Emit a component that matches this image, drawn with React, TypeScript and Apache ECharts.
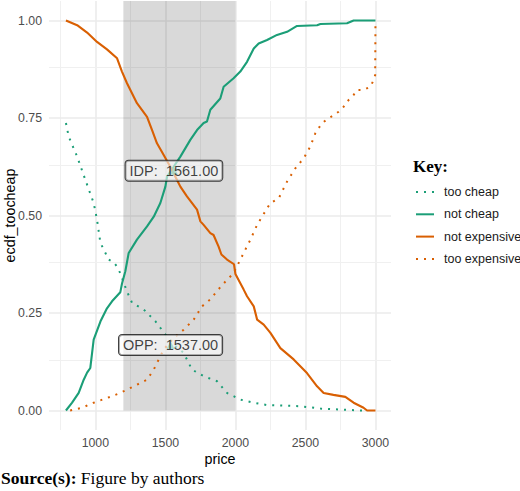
import React, { useEffect, useRef } from "react";
import * as echarts from "echarts";

// ---- axis breaks / limits ----
const xBreaks = [1000, 1500, 2000, 2500, 3000];
const xMinorBreaks = [750, 1250, 1750, 2250, 2750];
const yBreaks = [0, 0.25, 0.5, 0.75, 1];
const yMinorBreaks = [0.125, 0.375, 0.625, 0.875];
const xLimits = [669, 3111];
const yLimits = [-0.05, 1.05];

// ---- shaded range of acceptable prices ----
const shadeX = [1200, 2000];
const shadeY = [0, 1.05];

// ---- curves (price, share) ----
const tooCheap = [
  [790, 0.737], [810, 0.702], [870, 0.651], [929, 0.591], [988, 0.532], [1012, 0.489],
  [1036, 0.43], [1095, 0.387], [1131, 0.38], [1155, 0.369], [1178, 0.352], [1226, 0.305],
  [1262, 0.276], [1345, 0.259], [1428, 0.229], [1500, 0.195], [1559, 0.169], [1630, 0.148],
  [1690, 0.105], [1773, 0.088], [1869, 0.075], [1940, 0.045], [2035, 0.028], [2131, 0.02],
  [2226, 0.014], [2464, 0.011], [2607, 0.005], [2892, 0.0], [2930, 0.0],
];
const notCheap = [
  [790, 0], [834, 0.02], [881, 0.045], [917, 0.079], [941, 0.097], [964, 0.109], [988, 0.182],
  [1036, 0.228], [1083, 0.262], [1119, 0.28], [1178, 0.303], [1190, 0.325], [1214, 0.357],
  [1238, 0.404], [1297, 0.438], [1369, 0.472], [1417, 0.497], [1464, 0.532], [1500, 0.574],
  [1512, 0.6], [1559, 0.625], [1607, 0.651], [1678, 0.694], [1726, 0.719], [1773, 0.737],
  [1797, 0.741], [1821, 0.771], [1892, 0.8], [1916, 0.83], [1987, 0.852], [2035, 0.869],
  [2083, 0.894], [2131, 0.928], [2166, 0.941], [2226, 0.95], [2297, 0.963], [2369, 0.971],
  [2440, 0.986], [2583, 0.988], [2607, 0.991], [2797, 0.993], [2844, 1.0], [3000, 1.0],
];
const notExpensive = [
  [790, 1.0], [870, 0.988], [941, 0.969], [1012, 0.945], [1083, 0.926], [1155, 0.903],
  [1190, 0.869], [1226, 0.839], [1297, 0.788], [1369, 0.753], [1405, 0.719], [1440, 0.685],
  [1488, 0.655], [1535, 0.625], [1583, 0.591], [1607, 0.574], [1654, 0.549], [1726, 0.515],
  [1750, 0.485], [1773, 0.476], [1821, 0.455], [1844, 0.45], [1880, 0.42], [1900, 0.4],
  [1940, 0.387], [1990, 0.375], [2000, 0.35], [2059, 0.31], [2083, 0.293], [2131, 0.267],
  [2155, 0.233], [2202, 0.22], [2250, 0.199], [2321, 0.16], [2416, 0.131], [2511, 0.096],
  [2583, 0.062], [2630, 0.045], [2700, 0.04], [2785, 0.035], [2844, 0.02], [2915, 0.007],
  [2940, 0.0], [3000, 0.0],
];
const tooExpensive = [
  [820, 0], [905, 0.007], [988, 0.02], [1083, 0.032], [1178, 0.045], [1274, 0.062],
  [1369, 0.079], [1417, 0.105], [1440, 0.122], [1488, 0.156], [1559, 0.186], [1630, 0.207],
  [1702, 0.233], [1761, 0.267], [1821, 0.285], [1892, 0.316], [1940, 0.335], [1987, 0.352],
  [2059, 0.404], [2107, 0.438], [2155, 0.476], [2190, 0.497], [2250, 0.532], [2309, 0.544],
  [2369, 0.587], [2428, 0.621], [2488, 0.647], [2535, 0.677], [2571, 0.711], [2618, 0.737],
  [2666, 0.749], [2737, 0.766], [2773, 0.779], [2808, 0.796], [2844, 0.809], [2868, 0.822],
  [2915, 0.822], [2963, 0.83], [2987, 0.847], [2998, 0.86], [3000, 0.99],
];

// ---- intersection labels ----
const idpPoint = [1561, 0.615];
const oppPoint = [1537, 0.168];
const idpText = "IDP: \u00a01561.00";
const oppText = "OPP: \u00a01537.00";

const seriesNames = ["too cheap", "not cheap", "not expensive", "too expensive"];

const GREEN = "#1b9e77";
const ORANGE = "#d95f02";
const SANS = "'Liberation Sans', Arial, sans-serif";
const SERIF = "'Liberation Serif', 'Times New Roman', serif";

export default function App() {
  const ref = useRef<HTMLDivElement>(null);
  useEffect(() => {
    if (!ref.current) return;
    const chart = echarts.init(ref.current, null, { renderer: "svg" });

    const gridLines = [
      ...xBreaks.map((v) => ({ xAxis: v, lineStyle: { color: "#ebebeb", width: 1.6, type: "solid" } })),
      ...xMinorBreaks.map((v) => ({ xAxis: v, lineStyle: { color: "#f0f0f0", width: 1.1, type: "solid" } })),
      ...yBreaks.map((v) => ({ yAxis: v, lineStyle: { color: "#ebebeb", width: 1.6, type: "solid" } })),
      ...yMinorBreaks.map((v) => ({ yAxis: v, lineStyle: { color: "#f0f0f0", width: 1.1, type: "solid" } })),
    ];

    const labelStyle = {
      show: true,
      position: "inside",
      color: "#111",
      fontFamily: SANS,
      fontSize: 14.5,
      backgroundColor: "rgba(255,255,255,0.72)",
      borderColor: "#111",
      borderWidth: 1,
      borderRadius: 3,
      padding: [3, 4, 2, 4],
    };

    const dotted = [2, 6];

    chart.setOption({
      animation: false,
      backgroundColor: "#ffffff",
      grid: { left: 49, right: 129, top: 1, bottom: 61, containLabel: false, outerBoundsMode: "none" },
      xAxis: {
        type: "value",
        min: xLimits[0],
        max: xLimits[1],
        name: "price",
        nameLocation: "middle",
        nameGap: 22,
        nameMoveOverlap: false,
        nameTextStyle: { color: "#000", fontFamily: SANS, fontSize: 14.3, verticalAlign: "top" },
        axisLine: { show: false },
        axisTick: { show: false },
        splitLine: { show: false },
        axisLabel: {
          customValues: xBreaks,
          formatter: (v: number) => String(v),
          color: "#4d4d4d",
          fontFamily: SANS,
          fontSize: 12.3,
          margin: 7,
        },
      },
      yAxis: {
        type: "value",
        min: yLimits[0],
        max: yLimits[1],
        name: "ecdf_toocheap",
        nameLocation: "middle",
        nameGap: 32,
        nameMoveOverlap: false,
        nameTextStyle: { color: "#000", fontFamily: SANS, fontSize: 14.3 },
        axisLine: { show: false },
        axisTick: { show: false },
        splitLine: { show: false },
        axisLabel: {
          customValues: yBreaks,
          formatter: (v: number) => v.toFixed(2),
          color: "#4d4d4d",
          fontFamily: SANS,
          fontSize: 12.3,
          margin: 7,
        },
      },
      legend: {
        data: seriesNames,
        orient: "vertical",
        left: 410,
        top: 180.5,
        itemWidth: 18,
        itemHeight: 14,
        itemGap: 9.3,
        padding: 5,
        itemStyle: { opacity: 0 },
        textStyle: { color: "#1a1a1a", fontFamily: SANS, fontSize: 12.5, padding: [0, 0, 0, 5] },
        selectedMode: false,
      },
      graphic: [
        {
          type: "text",
          left: 413,
          top: 158,
          style: { text: "Key:", font: `bold 17px ${SERIF}`, fill: "#000" },
        },
        {
          type: "text",
          left: 1,
          top: 469,
          style: {
            text: "{b|Source(s):} Figure by authors",
            font: `17.5px ${SERIF}`,
            fill: "#000",
            rich: { b: { fontWeight: "bold", fontFamily: SERIF, fontSize: 17.5, fill: "#000" } },
          },
        },
      ],
      series: [
        {
          name: "gridlines",
          type: "line",
          data: [],
          z: 0,
          silent: true,
          markLine: {
            silent: true,
            z: 0,
            symbol: ["none", "none"],
            label: { show: false },
            animation: false,
            data: gridLines,
          },
        },
        {
          name: "shade",
          type: "line",
          data: [],
          z: 1,
          silent: true,
          markArea: {
            silent: true,
            z: 1,
            itemStyle: { color: "rgba(0,0,0,0.15)" },
            data: [[{ xAxis: shadeX[0], yAxis: shadeY[0] }, { xAxis: shadeX[1], yAxis: shadeY[1] }]],
          },
        },
        {
          name: seriesNames[0],
          type: "line",
          data: tooCheap,
          symbol: "none",
          z: 2,
          lineStyle: { color: GREEN, width: 2, type: dotted, cap: "butt" },
          itemStyle: { color: GREEN },
        },
        {
          name: seriesNames[1],
          type: "line",
          data: notCheap,
          symbol: "none",
          z: 2,
          lineStyle: { color: GREEN, width: 2.1 },
          itemStyle: { color: GREEN },
        },
        {
          name: seriesNames[2],
          type: "line",
          data: notExpensive,
          symbol: "none",
          z: 2,
          lineStyle: { color: ORANGE, width: 2.1 },
          itemStyle: { color: ORANGE },
        },
        {
          name: seriesNames[3],
          type: "line",
          data: tooExpensive,
          symbol: "none",
          z: 2,
          lineStyle: { color: ORANGE, width: 2, type: dotted, cap: "butt" },
          itemStyle: { color: ORANGE },
        },
        {
          name: "points",
          type: "scatter",
          data: [idpPoint, oppPoint],
          symbol: "triangle",
          symbolSize: 8,
          z: 3,
          silent: true,
          itemStyle: { color: GREEN },
        },
        {
          name: "labels",
          type: "scatter",
          symbolSize: 1,
          z: 4,
          silent: true,
          itemStyle: { color: "rgba(0,0,0,0)" },
          data: [
            { value: idpPoint, label: { ...labelStyle, formatter: idpText } },
            { value: oppPoint, label: { ...labelStyle, formatter: oppText } },
          ],
        },
      ],
    });
    return () => chart.dispose();
  }, []);
  return <div ref={ref} style={{ position: "fixed", left: 0, top: 0, width: 520, height: 491 }} />;
}
